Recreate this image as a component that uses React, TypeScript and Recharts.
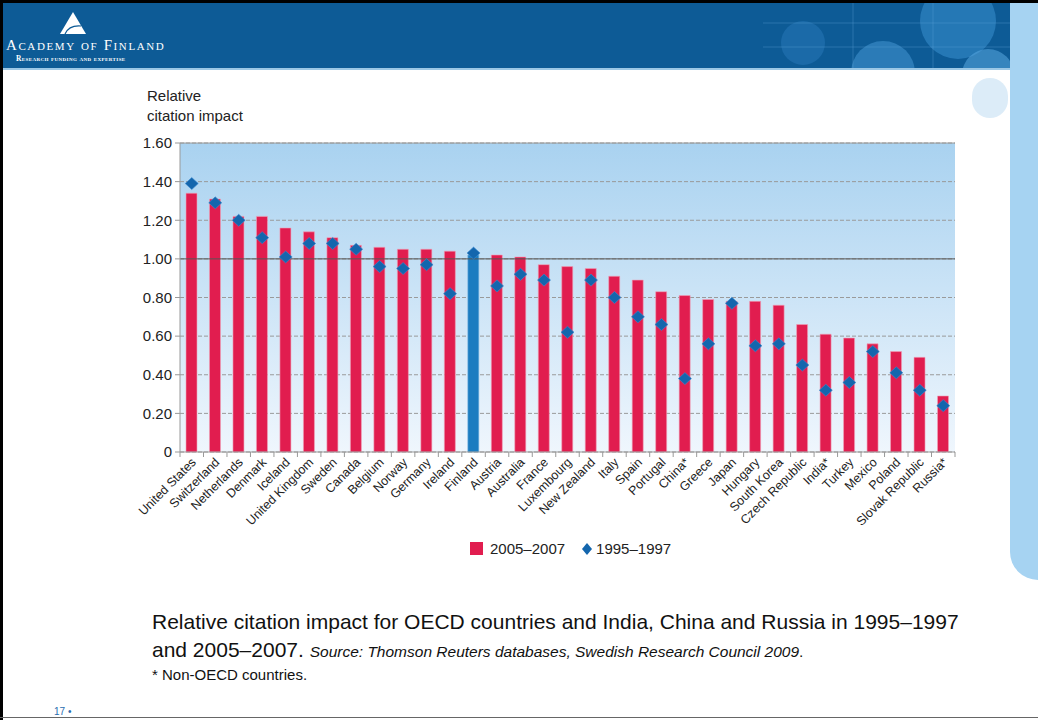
import React from "react";
import {
    ComposedChart,
    XAxis,
    YAxis,
    CartesianGrid,
    Bar,
    Line,
    Cell,
    ReferenceLine,
} from "recharts";

const countries = [
    "United States", "Switzerland", "Netherlands", "Denmark", "Iceland",
    "United Kingdom", "Sweden", "Canada", "Belgium", "Norway", "Germany",
    "Ireland", "Finland", "Austria", "Australia", "France", "Luxembourg",
    "New Zealand", "Italy", "Spain", "Portugal", "China*", "Greece", "Japan",
    "Hungary", "South Korea", "Czech Republic", "India*", "Turkey", "Mexico",
    "Poland", "Slovak Republic", "Russia*",
];

// 2005–2007 (bars)
const impact2005 = [
    1.34, 1.31, 1.22, 1.22, 1.16, 1.14, 1.11, 1.07, 1.06, 1.05, 1.05, 1.04,
    1.02, 1.02, 1.01, 0.97, 0.96, 0.95, 0.91, 0.89, 0.83, 0.81, 0.79, 0.78,
    0.78, 0.76, 0.66, 0.61, 0.59, 0.56, 0.52, 0.49, 0.29,
];

// 1995–1997 (diamonds)
const impact1995 = [
    1.39, 1.29, 1.2, 1.11, 1.01, 1.08, 1.08, 1.05, 0.96, 0.95, 0.97, 0.82,
    1.03, 0.86, 0.92, 0.89, 0.62, 0.89, 0.8, 0.7, 0.66, 0.38, 0.56, 0.77,
    0.55, 0.56, 0.45, 0.32, 0.36, 0.52, 0.41, 0.32, 0.24,
];

const yTicks = [0, 0.2, 0.4, 0.6, 0.8, 1.0, 1.2, 1.4, 1.6];
const highlight = "Finland";

const data = countries.map((c, i) => ({
    country: c,
    recent: impact2005[i],
    early: impact1995[i],
}));

const FONT = "'Liberation Sans Narrow', 'Liberation Sans', Arial, sans-serif";
const SANS = "'Liberation Sans', Arial, sans-serif";
const RED = "#e11d4f";
const BLUE_BAR = "#1b7cc0";
const DIAMOND = "#1466ad";

const PLOT_LEFT = 180;
const PLOT_RIGHT = 955;
const BAND = (PLOT_RIGHT - PLOT_LEFT) / countries.length;

const XTick = (props: any) => {
    const { x, y, payload, index } = props;
    const last = index === countries.length - 1;
    return (
        <g>
            <line x1={x - BAND / 2} y1={y} x2={x - BAND / 2} y2={y + 5} stroke="#999" />
            {last && (
                <line x1={x + BAND / 2} y1={y} x2={x + BAND / 2} y2={y + 5} stroke="#999" />
            )}
            <text
                x={x + 5}
                y={y + 11}
                transform={`rotate(-45, ${x + 5}, ${y + 11})`}
                textAnchor="end"
                fontSize={12.5}
                fontFamily={FONT}
                fill="#222"
            >
                {payload.value}
            </text>
        </g>
    );
};

const Diamond = (props: any) => {
    const { cx, cy } = props;
    if (cx == null || cy == null) return null;
    return (
        <path
            d={`M${cx},${cy - 6} L${cx + 6.5},${cy} L${cx},${cy + 6} L${cx - 6.5},${cy} Z`}
            fill={DIAMOND}
            stroke="#3b8ad0"
            strokeWidth={0.6}
        />
    );
};

const Header = () => (
    <div style={{ position: "absolute", left: 3, top: 3, width: 1007, height: 67, overflow: "hidden", background: "#0d5b96" }}>
        <svg width={1007} height={67} style={{ position: "absolute", left: 0, top: 0 }}>
            <circle cx={955} cy={18} r={38} fill="#3b8fd0" opacity={0.55} />
            <circle cx={880} cy={70} r={32} fill="#4a9bd8" opacity={0.5} />
            <circle cx={985} cy={72} r={26} fill="#5aa8e0" opacity={0.55} />
            <circle cx={800} cy={40} r={22} fill="#2c7cbf" opacity={0.45} />
            <line x1={760} y1={20} x2={1007} y2={20} stroke="#5ea4da" opacity={0.35} />
            <line x1={760} y1={44} x2={1007} y2={44} stroke="#5ea4da" opacity={0.35} />
            <line x1={850} y1={0} x2={850} y2={67} stroke="#5ea4da" opacity={0.35} />
            <line x1={930} y1={0} x2={930} y2={67} stroke="#5ea4da" opacity={0.35} />
            <polygon points="70,9 57,31 83,31" fill="#ffffff" />
            <path d="M62,31 Q66,22 78,23" stroke="#0d5b96" strokeWidth={1.2} fill="none" />
            <text x={3} y={47} fill="#fff" fontFamily="'Liberation Serif', serif" fontSize={15} letterSpacing={1.6} style={{ fontVariant: "small-caps" }}>
                Academy of Finland
            </text>
            <text x={13} y={58} fill="#fff" fontFamily="'Liberation Serif', serif" fontSize={7.5} fontWeight="bold" letterSpacing={0.4} style={{ fontVariant: "small-caps" }}>
                Research funding and expertise
            </text>
        </svg>
        <div style={{ position: "absolute", left: 0, bottom: 0, width: "100%", height: 2, background: "#9cc8e6" }} />
    </div>
);

export default function App() {
    return (
        <div style={{ position: "fixed", left: 0, top: 0, width: 1038, height: 720, background: "#fff", overflow: "hidden" }}>
            <div style={{ position: "absolute", left: 0, top: 0, width: 1038, height: 3, background: "#000" }} />
            <div style={{ position: "absolute", left: 0, top: 0, width: 3, height: 720, background: "#000" }} />
            <div style={{ position: "absolute", left: 0, top: 717, width: 1038, height: 1, background: "#666" }} />
            <Header />
            <div style={{ position: "absolute", left: 1010, top: 3, width: 28, height: 577, background: "#a6d3f2", borderBottomLeftRadius: 40 }} />
            <div style={{ position: "absolute", left: 972, top: 78, width: 36, height: 40, borderRadius: 20, background: "#dcecf8" }} />

            <div style={{ position: "absolute", left: 147, top: 86, fontFamily: FONT, fontSize: 15, lineHeight: "20px", color: "#222" }}>
                Relative
                <br />
                citation impact
            </div>

            <div style={{ position: "absolute", left: 0, top: 0 }}>
                <ComposedChart
                    width={1038}
                    height={540}
                    data={data}
                    margin={{ top: 143, right: 1038 - PLOT_RIGHT, left: PLOT_LEFT - 60, bottom: 8 }}
                    barCategoryGap={0}
                >
                    <defs>
                        <linearGradient id="plotBg" x1="0" y1="0" x2="0" y2="1">
                            <stop offset="0%" stopColor="#a9d2f0" />
                            <stop offset="100%" stopColor="#eff6fd" />
                        </linearGradient>
                    </defs>
                    <CartesianGrid
                        vertical={false}
                        fill="url(#plotBg)"
                        fillOpacity={1}
                        stroke="#9a9a9a"
                        strokeDasharray="4 2"
                    />
                    <XAxis
                        dataKey="country"
                        interval={0}
                        tickLine={false}
                        tickSize={0}
                        tickMargin={0}
                        axisLine={{ stroke: "#999" }}
                        tick={<XTick />}
                        height={80}
                    />
                    <YAxis
                        width={60}
                        domain={[0, 1.6]}
                        ticks={yTicks}
                        interval={0}
                        axisLine={{ stroke: "#999" }}
                        tickLine={{ stroke: "#999" }}
                        tickSize={5}
                        tickMargin={3}
                        tick={{ fontSize: 15, fill: "#222", fontFamily: FONT }}
                        tickFormatter={(v: number) => (v === 0 ? "0" : v.toFixed(2))}
                    />
                    <ReferenceLine y={1.6} stroke="#9a9a9a" />
                    <ReferenceLine y={1.0} stroke="#555" />
                    <Bar dataKey="recent" barSize={11} stroke="#f0a3b8" strokeWidth={0.6} isAnimationActive={false}>
                        {data.map((d) => (
                            <Cell key={d.country} fill={d.country === highlight ? BLUE_BAR : RED} stroke={d.country === highlight ? "#7ab7e2" : "#f0a3b8"} />
                        ))}
                    </Bar>
                    <Line
                        dataKey="early"
                        stroke="none"
                        strokeWidth={0}
                        dot={<Diamond />}
                        activeDot={false}
                        legendType="none"
                        isAnimationActive={false}
                    />
                </ComposedChart>
            </div>

            <div style={{ position: "absolute", left: 470, top: 540, display: "flex", alignItems: "center", fontFamily: FONT, fontSize: 15, color: "#222" }}>
                <span style={{ display: "inline-block", width: 13, height: 13, background: RED, marginRight: 7 }} />
                <span>2005–2007</span>
                <svg width={12} height={14} style={{ marginLeft: 16, marginRight: 3 }}>
                    <path d="M6,1 L11,7 L6,13 L1,7 Z" fill={DIAMOND} />
                </svg>
                <span>1995–1997</span>
            </div>

            <div style={{ position: "absolute", left: 152, top: 608, fontFamily: SANS, fontSize: 21, lineHeight: "28px", color: "#111" }}>
                Relative citation impact for OECD countries and India, China and Russia in 1995–1997
                <br />
                and 2005–2007.{" "}
                <span style={{ fontSize: 15.5, fontStyle: "italic" }}>
                    Source: Thomson Reuters databases, Swedish Research Council 2009
                </span>
                <span style={{ fontSize: 15.5 }}>.</span>
            </div>
            <div style={{ position: "absolute", left: 152, top: 666, fontFamily: SANS, fontSize: 15, color: "#111" }}>
                * Non-OECD countries.
            </div>
            <div style={{ position: "absolute", left: 54, top: 706, fontFamily: FONT, fontSize: 10, color: "#2a6db0" }}>
                17 •
            </div>
        </div>
    );
}
